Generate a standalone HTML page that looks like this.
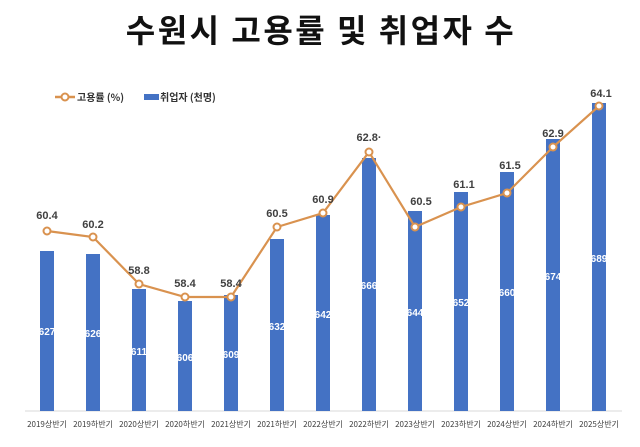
<!DOCTYPE html>
<html><head><meta charset="utf-8"><style>body{margin:0;background:#fff}svg{display:block}</style></head><body>
<svg width="640" height="447" xmlns="http://www.w3.org/2000/svg" font-family="Liberation Sans, Noto Sans CJK KR, sans-serif">
<rect width="640" height="447" fill="#fff"/>
<text x="321" y="42" text-anchor="middle" font-size="32" font-weight="bold" fill="#111" letter-spacing="2.5" font-family="Noto Sans CJK KR, sans-serif">수원시 고용률 및 취업자 수</text>
<line x1="55" y1="97" x2="75" y2="97" stroke="#d9924f" stroke-width="2.5"/>
<circle cx="65" cy="97" r="3.5" fill="#fff" stroke="#d9924f" stroke-width="2"/>
<text x="77" y="101" font-size="10" font-weight="bold" fill="#333" font-family="Noto Sans CJK KR, sans-serif">고용률 (%)</text>
<rect x="144" y="94" width="15" height="6" fill="#4472c4"/>
<text x="160" y="101" font-size="10" font-weight="bold" fill="#333" font-family="Noto Sans CJK KR, sans-serif">취업자 (천명)</text>
<line x1="25" y1="411" x2="622" y2="411" stroke="#d9d9d9" stroke-width="1"/>
<g fill="#4472c4">
<rect x="40" y="251" width="14" height="160"/><rect x="86" y="254" width="14" height="157"/><rect x="132" y="289" width="14" height="122"/><rect x="178" y="301" width="14" height="110"/><rect x="224" y="295" width="14" height="116"/><rect x="270" y="239" width="14" height="172"/><rect x="316" y="215" width="14" height="196"/><rect x="362" y="158" width="14" height="253"/><rect x="408" y="211" width="14" height="200"/><rect x="454" y="192" width="14" height="219"/><rect x="500" y="172" width="14" height="239"/><rect x="546" y="139" width="14" height="272"/><rect x="592" y="103" width="14" height="308"/>
</g>
<g fill="#fff" font-size="10" font-weight="bold" text-anchor="middle">
<text x="47" y="335">627</text><text x="93" y="337">626</text><text x="139" y="355">611</text><text x="185" y="361">606</text><text x="231" y="358">609</text><text x="277" y="330">632</text><text x="323" y="318">642</text><text x="369" y="289">666</text><text x="415" y="316">644</text><text x="461" y="306">652</text><text x="507" y="296">660</text><text x="553" y="280">674</text><text x="599" y="262">689</text>
</g>
<polyline fill="none" stroke="#d9924f" stroke-width="2.2" points="47,231 93,237 139,284 185,297 231,297 277,227 323,213 369,152 415,227 461,207 507,193 553,147 599,106"/>
<g fill="#fff" stroke="#d9924f" stroke-width="2">
<circle cx="47" cy="231" r="3.5"/><circle cx="93" cy="237" r="3.5"/><circle cx="139" cy="284" r="3.5"/><circle cx="185" cy="297" r="3.5"/><circle cx="231" cy="297" r="3.5"/><circle cx="277" cy="227" r="3.5"/><circle cx="323" cy="213" r="3.5"/><circle cx="369" cy="152" r="3.5"/><circle cx="415" cy="227" r="3.5"/><circle cx="461" cy="207" r="3.5"/><circle cx="507" cy="193" r="3.5"/><circle cx="553" cy="147" r="3.5"/><circle cx="599" cy="106" r="3.5"/>
</g>
<g fill="#404040" font-size="11" font-weight="bold" text-anchor="middle">
<text x="47" y="219">60.4</text><text x="93" y="228">60.2</text><text x="139" y="274">58.8</text><text x="185" y="287">58.4</text><text x="231" y="287">58.4</text><text x="277" y="217">60.5</text><text x="323" y="203">60.9</text><text x="369" y="141">62.8·</text><text x="421" y="205">60.5</text><text x="464" y="188">61.1</text><text x="510" y="169">61.5</text><text x="553" y="137">62.9</text><text x="601" y="97">64.1</text>
</g>
<g fill="#404040" font-size="8" text-anchor="middle" font-family="Noto Sans CJK KR, sans-serif">
<text x="47" y="427">2019상반기</text><text x="93" y="427">2019하반기</text><text x="139" y="427">2020상반기</text><text x="185" y="427">2020하반기</text><text x="231" y="427">2021상반기</text><text x="277" y="427">2021하반기</text><text x="323" y="427">2022상반기</text><text x="369" y="427">2022하반기</text><text x="415" y="427">2023상반기</text><text x="461" y="427">2023하반기</text><text x="507" y="427">2024상반기</text><text x="553" y="427">2024하반기</text><text x="599" y="427">2025상반기</text>
</g>
</svg>
</body></html>
